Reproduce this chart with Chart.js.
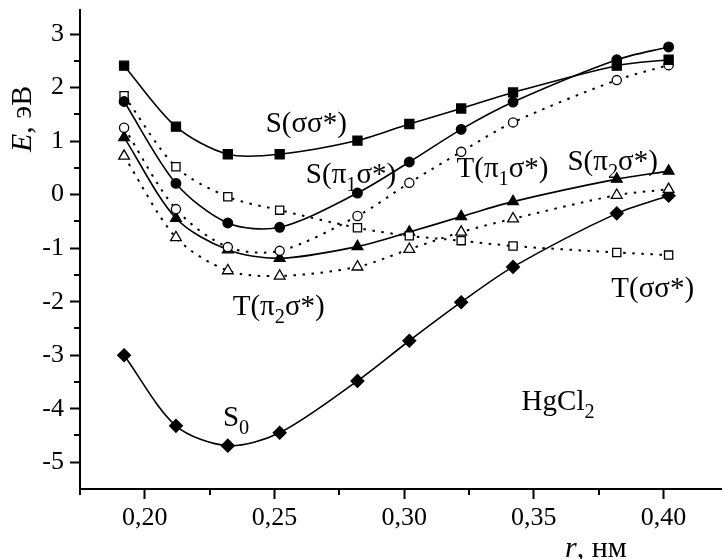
<!DOCTYPE html>
<html>
<head>
<meta charset="utf-8">
<script src="https://cdn.jsdelivr.net/npm/chart.js@4/dist/chart.umd.min.js"></script>
<style>
  html, body { margin: 0; padding: 0; background: #fff; }
  #plot { display: block; }
</style>
</head>
<body>
<canvas id="plot" width="723" height="559" style="width:723px;height:559px"></canvas>
<script>
// межатомное расстояние r, нм
const rValues = [0.192, 0.212, 0.232, 0.252, 0.282, 0.302, 0.322, 0.342, 0.382, 0.402];

// энергии состояний, эВ
const sSigmaSigma = [2.41, 1.27, 0.755, 0.755, 1.01, 1.32, 1.61, 1.91, 2.41, 2.52];
const sPi1Sigma   = [1.74, 0.21, -0.53, -0.61, 0.03, 0.61, 1.22, 1.73, 2.52, 2.76];
const tPi1Sigma   = [1.25, -0.27, -0.98, -1.05, -0.40, 0.22, 0.80, 1.35, 2.14, 2.42];
const tSigmaSigma = [1.85, 0.52, -0.04, -0.29, -0.62, -0.77, -0.86, -0.96, -1.08, -1.13];
const sPi2Sigma   = [1.07, -0.44, -1.03, -1.19, -0.97, -0.70, -0.41, -0.13, 0.29, 0.44];
const tPi2Sigma   = [0.72, -0.80, -1.42, -1.52, -1.35, -1.02, -0.70, -0.45, -0.01, 0.10];
const s0          = [-3.00, -4.32, -4.69, -4.45, -3.48, -2.73, -2.01, -1.35, -0.35, -0.02];

const xTicks = [0.20, 0.25, 0.30, 0.35, 0.40];
const xMinorTicks = [0.175, 0.225, 0.275, 0.325, 0.375];
const yTicks = [-5, -4, -3, -2, -1, 0, 1, 2, 3];
const yMinorTicks = [-4.5, -3.5, -2.5, -1.5, -0.5, 0.5, 1.5, 2.5];

const FONT = '"Liberation Serif", "Times New Roman", serif';

function pts(ys) {
  return rValues.map((x, i) => ({ x: x, y: ys[i] }));
}

function series(ys, shape, filled, radius, dotted) {
  return {
    data: pts(ys),
    borderColor: '#000',
    borderWidth: dotted ? 2 : 1.6,
    borderDash: dotted ? [2.5, 6.5] : [],
    tension: 0.3,
    pointStyle: shape,
    pointRadius: radius,
    pointHoverRadius: radius,
    pointBackgroundColor: filled ? '#000' : '#fff',
    pointBorderColor: '#000',
    pointBorderWidth: 1.3,
    fill: false
  };
}

// подписи кривых: [r, E, части текста]; true - нижний индекс
const curveLabels = [
  [0.2466, 1.17, [['S(σσ*)']]],
  [0.2621, 0.22, [['S(π'], ['1', true], ['σ*)']]],
  [0.3202, 0.33, [['T(π'], ['1', true], ['σ*)']]],
  [0.3630, 0.46, [['S(π'], ['2', true], ['σ*)']]],
  [0.2339, -2.25, [['T(π'], ['2', true], ['σ*)']]],
  [0.3799, -1.91, [['T(σσ*)']]],
  [0.2301, -4.32, [['S'], ['0', true]]],
  [0.3453, -4.02, [['HgCl'], ['2', true]]]
];

function drawParts(ctx, x, y, parts, size) {
  parts.forEach(p => {
    const sub = p[1] === true;
    const italic = p[1] === 'i';
    ctx.font = (italic ? 'italic ' : '') + (sub ? size * 0.7 : size) + 'px ' + FONT;
    ctx.fillText(p[0], x, sub ? y + 8 : y);
    x += ctx.measureText(p[0]).width;
  });
}

const decorations = {
  id: 'decorations',
  beforeDraw(chart) {
    const ctx = chart.ctx;
    ctx.save();
    ctx.fillStyle = '#fff';
    ctx.fillRect(0, 0, chart.width, chart.height);
    ctx.restore();
  },
  afterDraw(chart) {
    const ctx = chart.ctx;
    const xs = chart.scales.x, ys = chart.scales.y;
    ctx.save();
    ctx.strokeStyle = '#000';
    ctx.lineWidth = 2;
    ctx.beginPath();
    // ось r доходит до края рисунка
    const axisY = Math.round(ys.bottom);
    ctx.moveTo(xs.right - 1, axisY);
    ctx.lineTo(chart.width - 1, axisY);
    // малые деления
    xMinorTicks.forEach(v => {
      const px = Math.round(xs.getPixelForValue(v));
      ctx.moveTo(px, axisY);
      ctx.lineTo(px, axisY + 6);
    });
    yMinorTicks.forEach(v => {
      const py = Math.round(ys.getPixelForValue(v));
      ctx.moveTo(xs.left, py);
      ctx.lineTo(xs.left - 6, py);
    });
    ctx.stroke();

    ctx.fillStyle = '#000';
    ctx.textBaseline = 'alphabetic';
    ctx.textAlign = 'left';
    curveLabels.forEach(l => {
      drawParts(ctx, xs.getPixelForValue(l[0]), ys.getPixelForValue(l[1]), l[2], 29);
    });

    // подписи осей
    drawParts(ctx, 565, 557, [['r', 'i'], [', нм']], 30);
    ctx.translate(31, 152);
    ctx.rotate(-Math.PI / 2);
    drawParts(ctx, 0, 0, [['E', 'i'], [', эВ']], 30);
    ctx.restore();
  }
};

new Chart(document.getElementById('plot'), {
  type: 'line',
  data: {
    datasets: [
      series(sSigmaSigma, 'rect', true, 6.4, false),
      series(sPi1Sigma, 'circle', true, 4.8, false),
      series(tPi1Sigma, 'circle', false, 4.6, true),
      series(tSigmaSigma, 'rect', false, 5.8, true),
      series(sPi2Sigma, 'triangle', true, 6.2, false),
      series(tPi2Sigma, 'triangle', false, 6.2, true),
      series(s0, 'rectRot', true, 6.4, false)
    ]
  },
  plugins: [decorations],
  options: {
    responsive: false,
    devicePixelRatio: 1,
    animation: false,
    layout: { padding: { top: 10, right: 0, left: 0, bottom: 0 } },
    plugins: { legend: { display: false }, tooltip: { enabled: false } },
    scales: {
      x: {
        type: 'linear',
        min: 0.175,
        max: 0.42,
        afterBuildTicks: s => { s.ticks = xTicks.map(v => ({ value: v })); },
        afterFit: s => { s.height = 70; s.paddingLeft = 0; s.paddingRight = 0; },
        border: { color: '#000', width: 2 },
        grid: { drawOnChartArea: false, tickLength: 10, tickColor: '#000', tickWidth: 2 },
        ticks: {
          color: '#000',
          padding: 4,
          maxRotation: 0,
          font: { family: FONT, size: 26 },
          callback: v => v.toFixed(2).replace('.', ',')
        }
      },
      y: {
        type: 'linear',
        min: -5.5,
        max: 3.45,
        afterBuildTicks: s => { s.ticks = yTicks.map(v => ({ value: v })); },
        afterFit: s => { s.width = 80; s.paddingTop = 0; s.paddingBottom = 0; },
        border: { color: '#000', width: 2 },
        grid: { drawOnChartArea: false, tickLength: 10, tickColor: '#000', tickWidth: 2 },
        ticks: {
          color: '#000',
          padding: 6,
          font: { family: FONT, size: 26 },
          callback: v => String(v)
        }
      }
    }
  }
});
</script>
</body>
</html>
